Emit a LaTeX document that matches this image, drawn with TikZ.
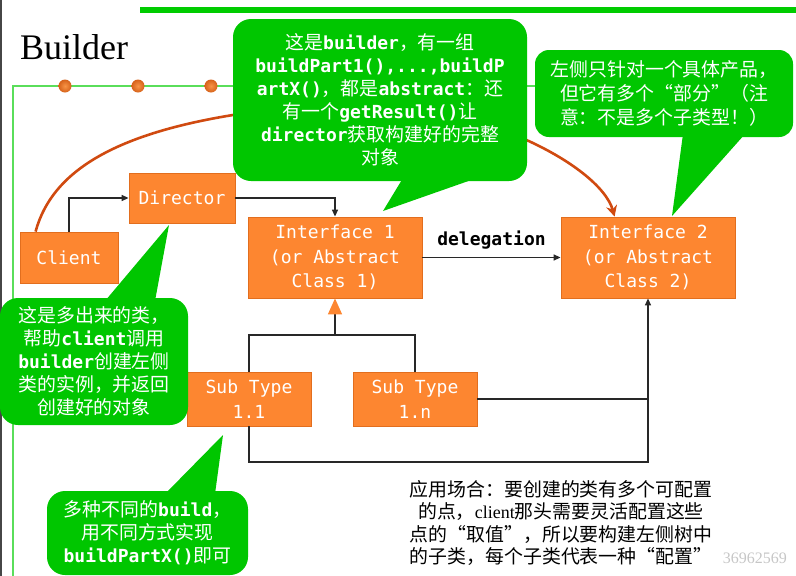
\documentclass[tikz,border=0pt]{standalone}
\usepackage{fontspec}
\usetikzlibrary{arrows.meta,calc,shadings}
\newfontfamily\mono{DejaVu Sans Mono}
\newfontfamily\cjk[Scale=1.05]{Noto Sans CJK SC}
\newfontfamily\serif{Liberation Serif}
\newcommand\zh[1]{{\cjk\mdseries #1}}
\definecolor{boxfill}{RGB}{253,134,48}
\definecolor{boxedge}{RGB}{226,110,30}
\definecolor{bubgreen}{RGB}{0,198,0}
\definecolor{framegreen}{RGB}{90,222,90}
\definecolor{topgreen}{RGB}{0,204,0}
\definecolor{curvecol}{RGB}{208,74,16}
\definecolor{dotin}{RGB}{248,148,70}
\definecolor{dotout}{RGB}{214,98,26}
\definecolor{linecol}{RGB}{40,40,40}
\definecolor{bordergray}{RGB}{70,70,70}
\tikzset{
  box/.style={draw=boxedge, line width=0.8pt, fill=boxfill, text=white, align=center, inner sep=0pt,
    font=\mono\fontsize{18}{24.5}\selectfont},
  bubble/.style={fill=bubgreen, rounded corners=18pt, text=white, align=center, inner sep=0pt},
  bubtext/.style={font=\mono\bfseries\fontsize{18}{23}\selectfont},
  wire/.style={draw=linecol, line width=1.4pt},
  conn/.style={wire, -{Triangle[length=7pt,width=6pt]}},
  dot/.style={inner color=dotin, outer color=dotout},
}
\begin{document}
\begin{tikzpicture}[x=1pt,y=-1pt]
\useasboundingbox (0,0) rectangle (796,576);
% page decorations
\draw[bordergray, line width=2pt] (1,0) -- (1,576);
\fill[topgreen] (140,7) rectangle (796,13);
\node[anchor=base west, font=\serif\fontsize{36}{36}\selectfont, inner sep=0pt] (title) at (20,59) {Builder};
\draw[framegreen, line width=1.2pt] (13,576) -- (13,86) -- (560,86);
\shade[dot] (65,86) circle (6.5);
\shade[dot] (138,86) circle (6.5);
\shade[dot] (211,86) circle (6.5);

% boxes
\node[box, minimum width=98pt, minimum height=51pt] (client) at (69,257.5) {Client};
\node[box, minimum width=106pt, minimum height=50pt] (director) at (182,198) {Director};
\node[box, minimum width=174pt, minimum height=81pt] (i1) at (335,257.5) {Interface 1\\(or Abstract\\Class 1)};
\node[box, minimum width=174pt, minimum height=81pt] (i2) at (648,257.5) {Interface 2\\(or Abstract\\Class 2)};
\node[box, minimum width=124pt, minimum height=54pt] (s11) at (249,399) {Sub Type\\1.1};
\node[box, minimum width=124pt, minimum height=54pt] (s1n) at (415,399) {Sub Type\\1.n};

% orange curve (drawn behind big bubble)
\draw[curvecol, line width=2.6pt, -{Stealth[length=11pt,width=11pt]}]
  ($(client.north west)+(16,0)$) .. controls (55,160) and (140,118) .. (330,104)
  .. controls (470,95) and (600,165) .. ($(i2.north west)+(54,0)$);

% big bubble
\node[bubble, bubtext, minimum width=294pt, minimum height=162pt] (b1) at (380,100)
 {\zh{这是}builder\zh{，有一组}\\buildPart1(),...,buildP\\artX()\zh{，都是}abstract\zh{：还}\\\zh{有一个}getResult()\zh{让}\\director\zh{获取构建好的完整}\\\zh{对象}};
\fill[bubgreen] (403,178) -- (477,178) -- (383,211) -- cycle;

% right bubble
\node[bubble, rounded corners=14pt, minimum width=258pt, minimum height=87pt,
  font=\cjk\fontsize{18}{24}\selectfont] (b2) at (664,93.5)
 {左侧只针对一个具体产品，\\但它有多个“部分”（注\\意：不是多个子类型！）};
\fill[bubgreen] (683,134) -- (745,134) -- (672,216) -- cycle;

% connectors
\draw[conn] (client.north) |- (director.west);
\draw[conn] (director.east) -| (i1.north);
\draw[conn] (i1.east) -- node[above=4pt, font=\mono\bfseries\fontsize{18}{18}\selectfont, text=black] (dlg) {delegation} (i2.west);
\coordinate (j1) at (335,335);
\draw[wire] (s11.north) |- (j1) -| (s1n.north);
\draw[wire, -{Triangle[length=16pt,width=14pt,fill=boxfill,color=boxfill]}] (j1) -- (i1.south);
\coordinate (j2) at (648,462);
\draw[wire] (s1n.east) -- (s1n.east -| i2.south);
\draw[conn] (s11.south) |- (j2) -- (i2.south);

% director bubble
\node[bubble, bubtext, minimum width=188pt, minimum height=127pt] (b3) at (94,361.5)
 {\zh{这是多出来的类，}\\\zh{帮助}client\zh{调用}\\builder\zh{创建左侧}\\\zh{类的实例，并返回}\\\zh{创建好的对象}};
\fill[bubgreen] (105,301) -- (155,301) -- (169,225) -- cycle;

% sub type bubble
\node[bubble, bubtext, minimum width=201pt, minimum height=84pt] (b4) at (147.5,533)
 {\zh{多种不同的}build\zh{，}\\\zh{用不同方式实现}\\buildPartX()\zh{即可}};
\fill[bubgreen] (165,494) -- (215,494) -- (223,435) -- cycle;

% note and watermark
\node[align=center, text=black, font=\cjk\fontsize{18}{22.5}\selectfont] (note) at (561,523)
 {应用场合：要创建的类有多个可配置\\的点，{\serif client}那头需要灵活配置这些\\点的“取值”，所以要构建左侧树中\\的子类，每个子类代表一种“配置”};
\node[anchor=base east, text=gray!45, font=\serif\fontsize{16}{16}\selectfont, inner sep=0pt] (wm) at (787,563) {36962569};
\end{tikzpicture}
\end{document}
